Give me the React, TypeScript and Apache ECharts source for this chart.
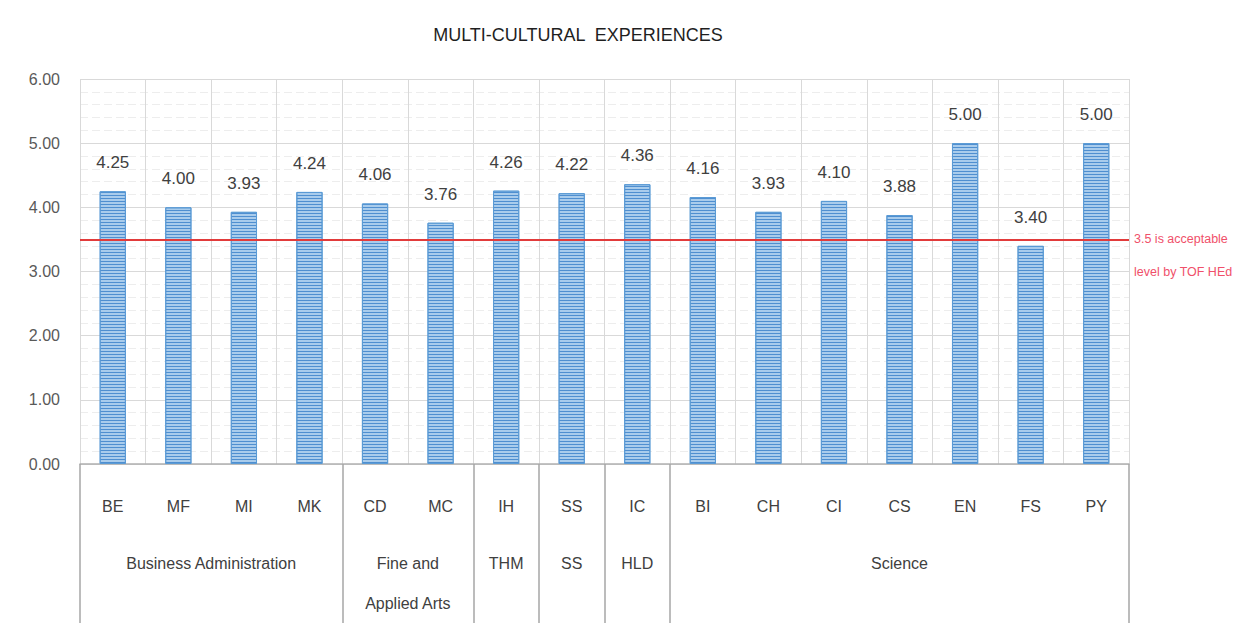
import React, { useEffect, useRef } from "react";
import * as echarts from "echarts";

const categories = ["BE", "MF", "MI", "MK", "CD", "MC", "IH", "SS", "IC", "BI", "CH", "CI", "CS", "EN", "FS", "PY"];
const values = [4.25, 4.0, 3.93, 4.24, 4.06, 3.76, 4.26, 4.22, 4.36, 4.16, 3.93, 4.1, 3.88, 5.0, 3.4, 5.0];
const groupNames = ["Business Administration", "Fine and\nApplied Arts", "THM", "SS", "HLD", "Science"];
const groupSizes = [4, 2, 1, 1, 1, 7];
const yTicks = [0, 1, 2, 3, 4, 5, 6];
const threshold = 3.5;
const thresholdNoteY = 3;
const thresholdLine1 = "3.5 is acceptable";
const thresholdLine2 = "level by TOF HEd";
const titleText = "MULTI-CULTURAL  EXPERIENCES";

export default function App() {
  const ref = useRef<HTMLDivElement>(null);
  useEffect(() => {
    if (!ref.current) return;
    const chart = echarts.init(ref.current, undefined, { renderer: "svg" });

    const bounds: number[] = [0];
    const centers: number[] = [];
    const labelMap: Record<string, string> = {};
    groupSizes.forEach((s, i) => {
      const start = bounds[bounds.length - 1];
      const end = start + s;
      bounds.push(end);
      const c = (start + end) / 2;
      centers.push(c);
      labelMap[String(c)] = groupNames[i];
    });

    const font = "Liberation Sans, Arial, sans-serif";
    const noteLabel = (text: string) => ({
      show: true,
      position: "end",
      distance: 5,
      formatter: text,
      color: "#F0506A",
      fontSize: 12.5,
      fontFamily: font,
    });

    chart.setOption({
      animation: false,
      title: {
        text: titleText,
        left: 573,
        top: 21,
        textAlign: "center",
        textStyle: { fontSize: 18, fontWeight: "normal", color: "#1f1f1f", fontFamily: font },
      },
      grid: { left: 80, right: 122, top: 79, bottom: 156, containLabel: false },
      xAxis: [
        {
          type: "category",
          data: categories,
          position: "bottom",
          axisLine: { show: true, lineStyle: { color: "#B0B0B0", width: 1.5 } },
          axisTick: { show: false },
          axisLabel: { margin: 34, fontSize: 16, color: "#404040", fontFamily: font },
          splitLine: { show: true, lineStyle: { color: "#D9D9D9", width: 1 } },
        },
        {
          type: "value",
          min: 0,
          max: categories.length,
          position: "bottom",
          axisLine: { show: false },
          axisTick: {
            show: true,
            customValues: bounds,
            length: 160,
            lineStyle: { color: "#A6A6A6", width: 1.5 },
          },
          axisLabel: {
            customValues: centers,
            margin: 79,
            fontSize: 16,
            lineHeight: 40,
            color: "#404040",
            fontFamily: font,
            verticalAlign: "top",
            formatter: (v: number) => labelMap[String(v)] || "",
          },
          splitLine: { show: false },
        },
      ],
      yAxis: {
        type: "value",
        min: yTicks[0],
        max: yTicks[yTicks.length - 1],
        interval: 1,
        axisLine: { show: false },
        axisTick: { show: false },
        axisLabel: {
          margin: 20,
          fontSize: 16,
          color: "#595959",
          fontFamily: font,
          formatter: (v: number) => v.toFixed(2),
        },
        splitLine: { show: true, lineStyle: { color: "#D9D9D9", width: 1 } },
        minorTick: { show: false, splitNumber: 5 },
        minorSplitLine: { show: true, lineStyle: { color: "#EDEDED", width: 1, type: [8, 4] } },
      },
      series: [
        {
          type: "bar",
          data: values,
          barWidth: "40%",
          itemStyle: {
            color: "#A9CCEC",
            borderColor: "#5B9BD5",
            borderWidth: 1,
            decal: {
              symbol: "rect",
              symbolSize: 1,
              dashArrayX: [[1, 0]],
              dashArrayY: [1, 2],
              color: "#4F8FD0",
              rotation: 0,
            },
          },
          label: {
            show: true,
            position: "top",
            distance: 20,
            fontSize: 17,
            color: "#404040",
            fontFamily: font,
            formatter: (p: any) => Number(p.value).toFixed(2),
          },
          markLine: {
            silent: true,
            symbol: ["none", "none"],
            data: [
              {
                yAxis: threshold,
                lineStyle: { color: "#E23B3B", width: 2, type: "solid" },
                label: noteLabel(thresholdLine1),
              },
              {
                yAxis: thresholdNoteY,
                lineStyle: { color: "rgba(0,0,0,0)", width: 0, type: "solid" },
                label: noteLabel(thresholdLine2),
              },
            ],
          },
        },
      ],
    });
    return () => chart.dispose();
  }, []);
  return (
    <div
      ref={ref}
      style={{ position: "fixed", left: 0, top: 0, width: 1251, height: 623, background: "#fff" }}
    />
  );
}
